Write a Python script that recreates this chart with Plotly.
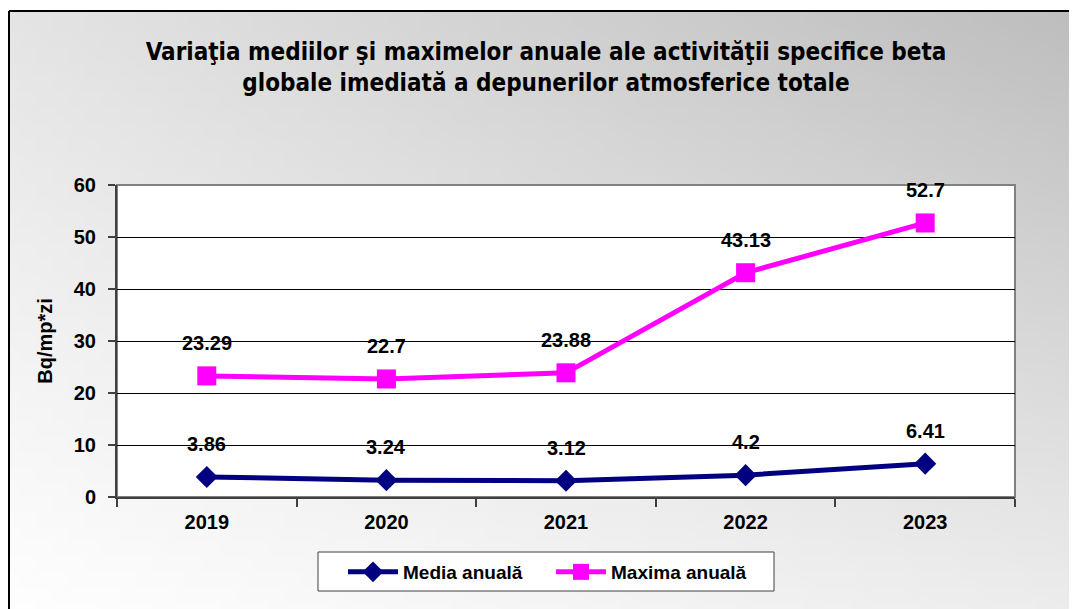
import base64
import struct
import zlib

import plotly.graph_objects as go

years = ["2019", "2020", "2021", "2022", "2023"]
media = [3.86, 3.24, 3.12, 4.2, 6.41]
maxima = [23.29, 22.7, 23.88, 43.13, 52.7]
y_ticks = [0, 10, 20, 30, 40, 50, 60]


def gradient_png(w, h, tl, tr, bl, br):
    # small bilinear grey gradient, the browser stretches it
    rows = b""
    for j in range(h):
        v = j / (h - 1)
        row = b"\x00"
        for i in range(w):
            u = i / (w - 1)
            c = (tl * (1 - u) + tr * u) * (1 - v) + (bl * (1 - u) + br * u) * v
            c = int(round(c))
            row += bytes([c, c, c])
        rows += row

    def chunk(tag, data):
        return (struct.pack(">I", len(data)) + tag + data
                + struct.pack(">I", zlib.crc32(tag + data) & 0xffffffff))

    png = b"\x89PNG\r\n\x1a\n"
    png += chunk(b"IHDR", struct.pack(">IIBBBBB", w, h, 8, 2, 0, 0, 0))
    png += chunk(b"IDAT", zlib.compress(rows))
    png += chunk(b"IEND", b"")
    return "data:image/png;base64," + base64.b64encode(png).decode()


# page has an 8px body margin, so the figure starts at (8, 8)
OFF = 8
PAGE_W, PAGE_H = 1077, 609
W, H = PAGE_W - OFF, PAGE_H - OFF
# plot area on the page: x 117..1015, y 185..497
L, R, T, B = 117 - OFF, PAGE_W - 1015, 185 - OFF, PAGE_H - 497
pw, ph = W - L - R, H - T - B


def px(x):
    return (x - OFF - L) / pw


def py(y):
    return (497 - y) / ph


bold = dict(family="Liberation Sans", color="black", weight="bold")

fig = go.Figure()

fig.add_trace(go.Scatter(
    x=years, y=media, name="Media anuală", mode="lines+markers",
    line=dict(color="#000080", width=5),
    marker=dict(symbol="diamond", size=17, color="#000080"),
))
fig.add_trace(go.Scatter(
    x=years, y=maxima, name="Maxima anuală", mode="lines+markers",
    line=dict(color="#ff00ff", width=5),
    marker=dict(symbol="square", size=19, color="#ff00ff"),
))

for series in (media, maxima):
    for i, v in enumerate(series):
        fig.add_annotation(x=i, y=v, text=f"{v:g}", showarrow=False,
                           yshift=33, font=dict(bold, size=20))

fig.add_layout_image(
    source=gradient_png(64, 40, 228, 190, 254, 236),
    xref="paper", yref="paper", x=px(9), y=py(11),
    sizex=(PAGE_W - 9) / pw, sizey=(PAGE_H - 11) / ph,
    sizing="stretch", layer="below", xanchor="left", yanchor="top",
)

# outer frame (left and top edges)
fig.add_shape(type="line", xref="paper", yref="paper",
              x0=px(9), x1=px(9), y0=py(PAGE_H + 5), y1=py(11),
              line=dict(color="black", width=2))
fig.add_shape(type="line", xref="paper", yref="paper",
              x0=px(9), x1=px(PAGE_W + 5), y0=py(11), y1=py(11),
              line=dict(color="black", width=2))
# plot area
fig.add_shape(type="rect", xref="paper", yref="paper",
              x0=0, x1=1, y0=0, y1=1, layer="below",
              fillcolor="white", line=dict(color="#808080", width=2))
# legend box
fig.add_shape(type="rect", xref="paper", yref="paper",
              x0=px(318), x1=px(774), y0=py(591), y1=py(552), layer="below",
              fillcolor="white", line=dict(color="#404040", width=1))

fig.update_layout(
    width=W, height=H,
    margin=dict(l=L, r=R, t=T, b=B),
    paper_bgcolor="white",
    plot_bgcolor="rgba(0,0,0,0)",
    title=dict(
        text="Variaţia mediilor şi maximelor anuale ale activităţii specifice beta"
             "<br>globale imediată a depunerilor atmosferice totale",
        xref="container", x=(546 - OFF) / W, xanchor="center",
        y=1 - (60 - OFF) / H, yanchor="middle",
        font=dict(family="DejaVu Sans Condensed", size=24, color="black",
                  weight="bold"),
    ),
    showlegend=True,
    legend=dict(
        orientation="h", x=px(343), xanchor="left", y=py(572),
        yanchor="middle", bgcolor="rgba(0,0,0,0)", borderwidth=0,
        itemwidth=50, entrywidth=143,
        font=dict(bold, size=19),
    ),
    font=dict(family="Liberation Sans", color="black"),
)

fig.update_xaxes(
    type="category", range=[-0.5, 4.5], tickson="boundaries",
    ticks="outside", ticklen=8, tickcolor="#404040", tickwidth=2,
    ticklabelstandoff=6,
    showline=True, linecolor="#404040", linewidth=2, showgrid=False,
    tickfont=dict(bold, size=20),
)
fig.update_yaxes(
    range=[0, 60], tickvals=y_ticks, ticks="outside", ticklen=7,
    tickcolor="#404040", tickwidth=2, ticklabelstandoff=8,
    showline=True, linecolor="#404040", linewidth=2,
    showgrid=True, gridcolor="black", gridwidth=1, zeroline=False,
    tickfont=dict(bold, size=20),
    title=dict(text="Bq/mp*zi", standoff=16, font=dict(bold, size=20)),
)

fig.write_html("out.html")
